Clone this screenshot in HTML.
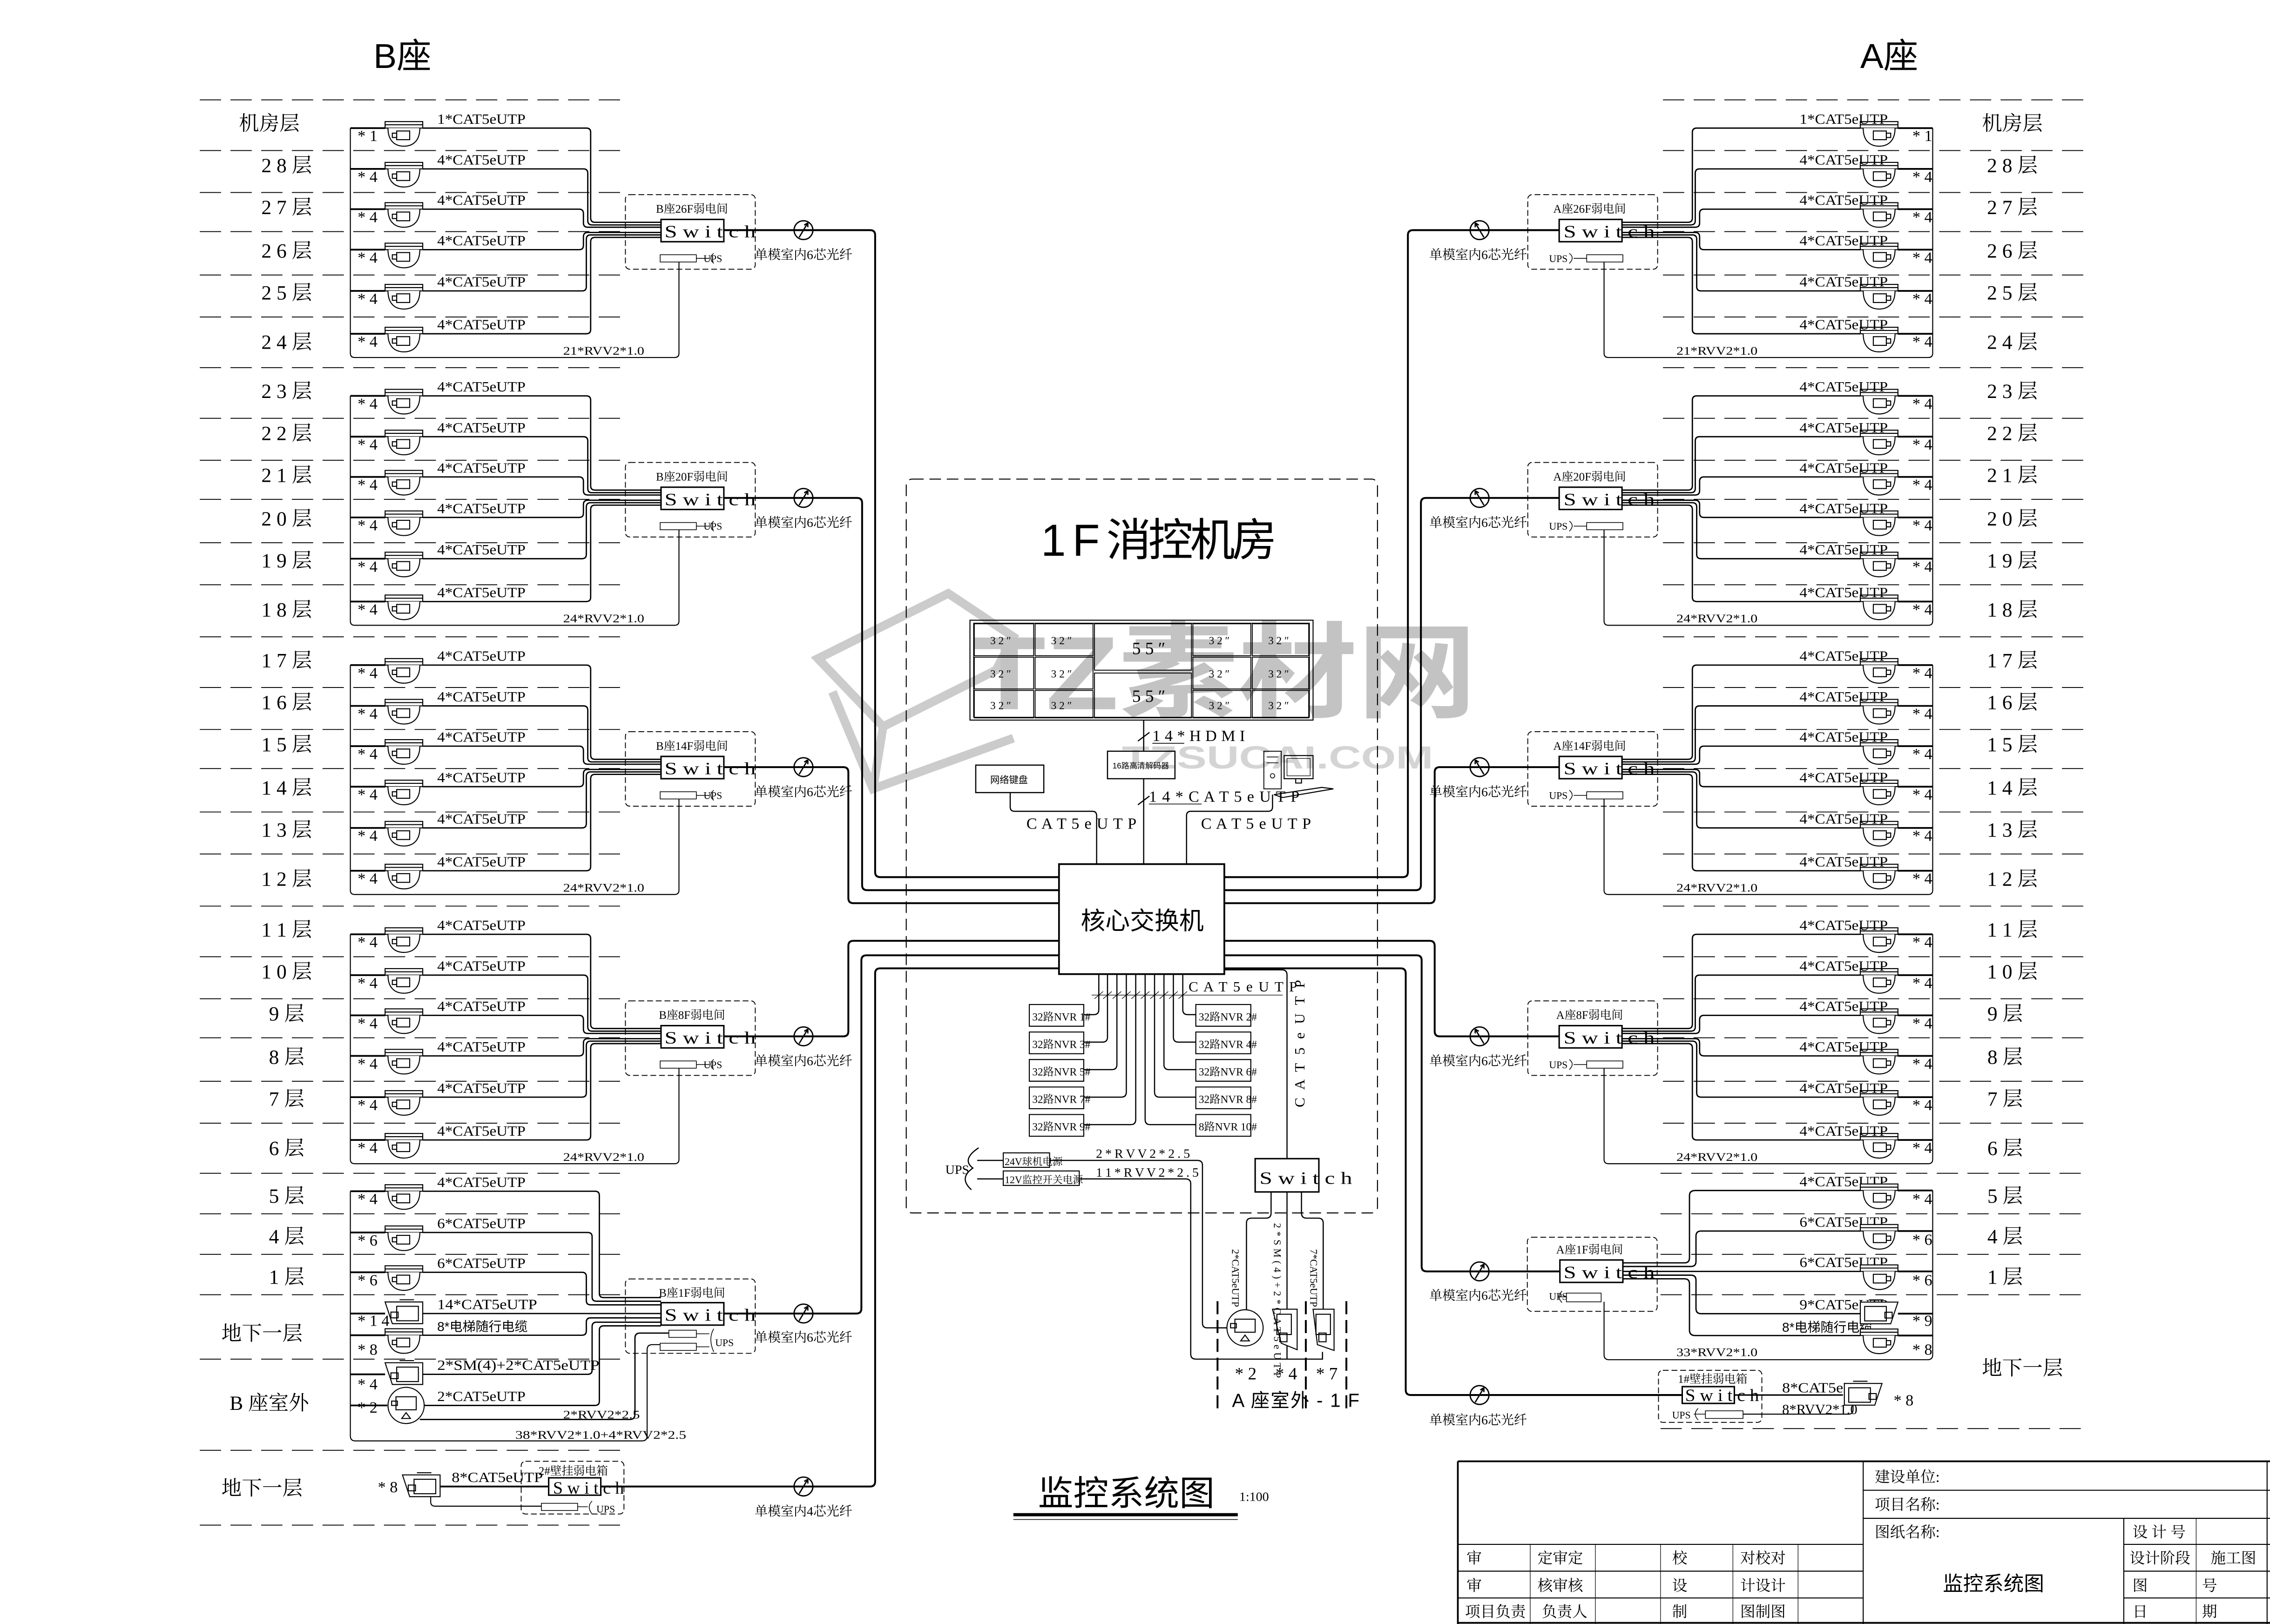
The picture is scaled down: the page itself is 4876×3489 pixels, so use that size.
<!DOCTYPE html>
<html><head><meta charset="utf-8">
<style>
html,body{margin:0;padding:0;background:#fff;}
svg{display:block;}
text{font-family:"Liberation Serif","Noto Serif CJK SC",serif;fill:#000;}
.cj{font-family:"Liberation Sans","Noto Sans CJK SC",sans-serif;}
</style></head>
<body>
<svg xmlns="http://www.w3.org/2000/svg" xmlns:xlink="http://www.w3.org/1999/xlink" width="4876" height="3489" viewBox="0 0 1568 1122" preserveAspectRatio="none">
<defs>
<g id="dome" fill="none" stroke="#000" stroke-width="0.7">
 <rect x="0" y="-4.5" width="26" height="4.5" fill="#fff"/>
 <path d="M0,-2.3H26"/>
 <path d="M2,0C2,9 7,12.5 13,12.5C19,12.5 24,9 24,0" fill="#fff"/>
 <rect x="8" y="2" width="9" height="6"/>
 <rect x="5" y="3.5" width="3" height="3"/>
</g>
<g id="sq" fill="none" stroke="#000" stroke-width="0.7">
 <path d="M0,-8H26V7H5Z" fill="#fff"/>
 <rect x="8" y="-5" width="15" height="10"/>
 <rect x="4" y="-1" width="5" height="4"/>
 <path d="M10,-9.5H20"/>
</g>
<g id="rd" fill="none" stroke="#000" stroke-width="0.7">
 <circle cx="13" cy="0" r="12.5" fill="#fff"/>
 <rect x="6" y="-6" width="14" height="9"/>
 <rect x="3" y="-3" width="4" height="3"/>
 <path d="M10,9H16L13,5Z"/>
</g>
<g id="fib" fill="none" stroke="#000">
 <circle cx="0" cy="0" r="6.5" stroke-width="0.9" fill="#fff"/>
 <path d="M-3,5L3,-5M3,-5L0.5,-3.5M3,-5L3,-2" stroke-width="0.9"/>
</g>
<g id="LB" fill="none" stroke="#000">
 <path stroke-dasharray="14.7 6.5" stroke-width="0.6" d="M138,69H430M138,104H430M138,133H430M138,160H430M138,190H430M138,219H430"/>
 <path stroke-width="0.7" d="M242,88.5V244Q242,247 245,247H466Q469,247 469,244V181"/>
 <path stroke-width="1.2" d="M242,88.5H266M242,116.7H266M242,144.5H266M242,172.5H266M242,201H266M242,230.6H266"/>
 <use xlink:href="#dome" x="266" y="88.5"/>
 <use xlink:href="#dome" x="266" y="116.7"/>
 <use xlink:href="#dome" x="266" y="144.5"/>
 <use xlink:href="#dome" x="266" y="172.5"/>
 <use xlink:href="#dome" x="266" y="201"/>
 <use xlink:href="#dome" x="266" y="230.6"/>
 <path stroke-width="0.9" d="M292,88.5H405Q408,88.5 408,91.5V150.6Q408,153.6 411,153.6H456.6
 M292,116.7H403Q406,116.7 406,119.7V152.4Q406,155.4 409,155.4H456.6
 M292,144.5H400Q403,144.5 403,147.5V154Q403,157 406,157H456.6
 M292,172.5H400Q403,172.5 403,169.5V163.6Q403,160.6 406,160.6H456.6
 M292,201H402Q405,201 405,198V165.3Q405,162.3 408,162.3H456.6
 M292,230.6H405Q408,230.6 408,227.6V167Q408,164 411,164H456.6"/>
 <rect x="456.6" y="151.6" width="43.4" height="15.4" stroke-width="1"/>
 <rect x="432" y="134.5" width="89.7" height="51.5" rx="3" stroke-dasharray="4 2" stroke-width="0.6"/>
 <rect x="456" y="176" width="25" height="5" stroke-width="0.5"/>
 <path stroke-width="0.5" d="M481,178.5H490M493,175Q489,178 493,182"/>
 <use xlink:href="#fib" x="555" y="159"/>
</g>
</defs>

<text x="278" y="47" font-size="24" text-anchor="middle" class="cj">B座</text>
<text x="1305" y="47" font-size="24" text-anchor="middle" class="cj">A座</text>

<g opacity="0.5">
 <path d="M565,455L655,410L700,440L688,463L610,502Z M575,478L603,545L700,510 M610,502L603,545" fill="none" stroke="#999" stroke-width="6"/>
 <text x="672" y="490" font-size="72" font-weight="bold" textLength="348" lengthAdjust="spacingAndGlyphs" class="cj" style="fill:#888">TZ素材网</text>
 <text x="775" y="531" font-size="22" font-weight="bold" textLength="215" lengthAdjust="spacingAndGlyphs" class="cj" style="fill:#aaa">TZSUCAI.COM</text>
</g>

<use xlink:href="#LB"/>
<use xlink:href="#LB" transform="translate(0,185)"/>
<use xlink:href="#LB" transform="translate(0,371)"/>
<use xlink:href="#LB" transform="translate(0,557)"/>
<use xlink:href="#LB" transform="matrix(-1 0 0 1 1577 0)"/>
<use xlink:href="#LB" transform="matrix(-1 0 0 1 1577 185)"/>
<use xlink:href="#LB" transform="matrix(-1 0 0 1 1577 371)"/>
<use xlink:href="#LB" transform="matrix(-1 0 0 1 1577 557)"/>

<g font-size="14" text-anchor="middle" class="cj">
<text x="186" y="90">机房层</text><text x="198" y="119">2 8 层</text><text x="198" y="148">2 7 层</text><text x="198" y="178">2 6 层</text><text x="198" y="207">2 5 层</text><text x="198" y="241">2 4 层</text>
<text x="198" y="275">2 3 层</text><text x="198" y="304">2 2 层</text><text x="198" y="333">2 1 层</text><text x="198" y="363">2 0 层</text><text x="198" y="392">1 9 层</text><text x="198" y="426">1 8 层</text>
<text x="198" y="461">1 7 层</text><text x="198" y="490">1 6 层</text><text x="198" y="519">1 5 层</text><text x="198" y="549">1 4 层</text><text x="198" y="578">1 3 层</text><text x="198" y="612">1 2 层</text>
<text x="198" y="647">1 1 层</text><text x="198" y="676">1 0 层</text><text x="198" y="705">9 层</text><text x="198" y="735">8 层</text><text x="198" y="764">7 层</text><text x="198" y="798">6 层</text>
<text x="198" y="831">5 层</text><text x="198" y="859">4 层</text><text x="198" y="887">1 层</text><text x="181" y="926">地下一层</text><text x="186" y="974">B 座室外</text><text x="181" y="1033">地下一层</text>
</g>
<g font-size="14" text-anchor="middle" class="cj">
<text x="1390" y="90">机房层</text><text x="1390" y="119">2 8 层</text><text x="1390" y="148">2 7 层</text><text x="1390" y="178">2 6 层</text><text x="1390" y="207">2 5 层</text><text x="1390" y="241">2 4 层</text>
<text x="1390" y="275">2 3 层</text><text x="1390" y="304">2 2 层</text><text x="1390" y="333">2 1 层</text><text x="1390" y="363">2 0 层</text><text x="1390" y="392">1 9 层</text><text x="1390" y="426">1 8 层</text>
<text x="1390" y="461">1 7 层</text><text x="1390" y="490">1 6 层</text><text x="1390" y="519">1 5 层</text><text x="1390" y="549">1 4 层</text><text x="1390" y="578">1 3 层</text><text x="1390" y="612">1 2 层</text>
<text x="1390" y="647">1 1 层</text><text x="1390" y="676">1 0 层</text><text x="1385" y="705">9 层</text><text x="1385" y="735">8 层</text><text x="1385" y="764">7 层</text><text x="1385" y="798">6 层</text>
<text x="1385" y="831">5 层</text><text x="1385" y="859">4 层</text><text x="1385" y="887">1 层</text><text x="1397" y="950">地下一层</text>
</g>

<g font-size="10">
<text x="302" y="85.5" textLength="61" lengthAdjust="spacingAndGlyphs">1*CAT5eUTP</text>
<text x="302" y="113.7" textLength="61" lengthAdjust="spacingAndGlyphs">4*CAT5eUTP</text>
<text x="302" y="141.5" textLength="61" lengthAdjust="spacingAndGlyphs">4*CAT5eUTP</text>
<text x="302" y="169.5" textLength="61" lengthAdjust="spacingAndGlyphs">4*CAT5eUTP</text>
<text x="302" y="198" textLength="61" lengthAdjust="spacingAndGlyphs">4*CAT5eUTP</text>
<text x="302" y="227.6" textLength="61" lengthAdjust="spacingAndGlyphs">4*CAT5eUTP</text>
<text x="302" y="270.5" textLength="61" lengthAdjust="spacingAndGlyphs">4*CAT5eUTP</text>
<text x="302" y="298.7" textLength="61" lengthAdjust="spacingAndGlyphs">4*CAT5eUTP</text>
<text x="302" y="326.5" textLength="61" lengthAdjust="spacingAndGlyphs">4*CAT5eUTP</text>
<text x="302" y="354.5" textLength="61" lengthAdjust="spacingAndGlyphs">4*CAT5eUTP</text>
<text x="302" y="383" textLength="61" lengthAdjust="spacingAndGlyphs">4*CAT5eUTP</text>
<text x="302" y="412.6" textLength="61" lengthAdjust="spacingAndGlyphs">4*CAT5eUTP</text>
<text x="302" y="456.5" textLength="61" lengthAdjust="spacingAndGlyphs">4*CAT5eUTP</text>
<text x="302" y="484.7" textLength="61" lengthAdjust="spacingAndGlyphs">4*CAT5eUTP</text>
<text x="302" y="512.5" textLength="61" lengthAdjust="spacingAndGlyphs">4*CAT5eUTP</text>
<text x="302" y="540.5" textLength="61" lengthAdjust="spacingAndGlyphs">4*CAT5eUTP</text>
<text x="302" y="569" textLength="61" lengthAdjust="spacingAndGlyphs">4*CAT5eUTP</text>
<text x="302" y="598.6" textLength="61" lengthAdjust="spacingAndGlyphs">4*CAT5eUTP</text>
<text x="302" y="642.5" textLength="61" lengthAdjust="spacingAndGlyphs">4*CAT5eUTP</text>
<text x="302" y="670.7" textLength="61" lengthAdjust="spacingAndGlyphs">4*CAT5eUTP</text>
<text x="302" y="698.5" textLength="61" lengthAdjust="spacingAndGlyphs">4*CAT5eUTP</text>
<text x="302" y="726.5" textLength="61" lengthAdjust="spacingAndGlyphs">4*CAT5eUTP</text>
<text x="302" y="755" textLength="61" lengthAdjust="spacingAndGlyphs">4*CAT5eUTP</text>
<text x="302" y="784.6" textLength="61" lengthAdjust="spacingAndGlyphs">4*CAT5eUTP</text>
<text x="302" y="820" textLength="61" lengthAdjust="spacingAndGlyphs">4*CAT5eUTP</text>
<text x="302" y="848.5" textLength="61" lengthAdjust="spacingAndGlyphs">6*CAT5eUTP</text>
<text x="302" y="876" textLength="61" lengthAdjust="spacingAndGlyphs">6*CAT5eUTP</text>
<text x="302" y="904.5" textLength="69" lengthAdjust="spacingAndGlyphs">14*CAT5eUTP</text>
<text x="302" y="919.5" font-size="9" class="cj">8*电梯随行电缆</text>
<text x="302" y="946.5" textLength="112" lengthAdjust="spacingAndGlyphs">2*SM(4)+2*CAT5eUTP</text>
<text x="302" y="968" textLength="61" lengthAdjust="spacingAndGlyphs">2*CAT5eUTP</text>
<text x="312" y="1024" textLength="63" lengthAdjust="spacingAndGlyphs">8*CAT5eUTP</text>
</g>
<g font-size="10">
<text x="1243" y="85.5" textLength="61" lengthAdjust="spacingAndGlyphs">1*CAT5eUTP</text>
<text x="1243" y="113.7" textLength="61" lengthAdjust="spacingAndGlyphs">4*CAT5eUTP</text>
<text x="1243" y="141.5" textLength="61" lengthAdjust="spacingAndGlyphs">4*CAT5eUTP</text>
<text x="1243" y="169.5" textLength="61" lengthAdjust="spacingAndGlyphs">4*CAT5eUTP</text>
<text x="1243" y="198" textLength="61" lengthAdjust="spacingAndGlyphs">4*CAT5eUTP</text>
<text x="1243" y="227.6" textLength="61" lengthAdjust="spacingAndGlyphs">4*CAT5eUTP</text>
<text x="1243" y="270.5" textLength="61" lengthAdjust="spacingAndGlyphs">4*CAT5eUTP</text>
<text x="1243" y="298.7" textLength="61" lengthAdjust="spacingAndGlyphs">4*CAT5eUTP</text>
<text x="1243" y="326.5" textLength="61" lengthAdjust="spacingAndGlyphs">4*CAT5eUTP</text>
<text x="1243" y="354.5" textLength="61" lengthAdjust="spacingAndGlyphs">4*CAT5eUTP</text>
<text x="1243" y="383" textLength="61" lengthAdjust="spacingAndGlyphs">4*CAT5eUTP</text>
<text x="1243" y="412.6" textLength="61" lengthAdjust="spacingAndGlyphs">4*CAT5eUTP</text>
<text x="1243" y="456.5" textLength="61" lengthAdjust="spacingAndGlyphs">4*CAT5eUTP</text>
<text x="1243" y="484.7" textLength="61" lengthAdjust="spacingAndGlyphs">4*CAT5eUTP</text>
<text x="1243" y="512.5" textLength="61" lengthAdjust="spacingAndGlyphs">4*CAT5eUTP</text>
<text x="1243" y="540.5" textLength="61" lengthAdjust="spacingAndGlyphs">4*CAT5eUTP</text>
<text x="1243" y="569" textLength="61" lengthAdjust="spacingAndGlyphs">4*CAT5eUTP</text>
<text x="1243" y="598.6" textLength="61" lengthAdjust="spacingAndGlyphs">4*CAT5eUTP</text>
<text x="1243" y="642.5" textLength="61" lengthAdjust="spacingAndGlyphs">4*CAT5eUTP</text>
<text x="1243" y="670.7" textLength="61" lengthAdjust="spacingAndGlyphs">4*CAT5eUTP</text>
<text x="1243" y="698.5" textLength="61" lengthAdjust="spacingAndGlyphs">4*CAT5eUTP</text>
<text x="1243" y="726.5" textLength="61" lengthAdjust="spacingAndGlyphs">4*CAT5eUTP</text>
<text x="1243" y="755" textLength="61" lengthAdjust="spacingAndGlyphs">4*CAT5eUTP</text>
<text x="1243" y="784.6" textLength="61" lengthAdjust="spacingAndGlyphs">4*CAT5eUTP</text>
<text x="1243" y="819.5" textLength="61" lengthAdjust="spacingAndGlyphs">4*CAT5eUTP</text>
<text x="1243" y="847.5" textLength="61" lengthAdjust="spacingAndGlyphs">6*CAT5eUTP</text>
<text x="1243" y="875.4" textLength="61" lengthAdjust="spacingAndGlyphs">6*CAT5eUTP</text>
<text x="1243" y="904.6" textLength="61" lengthAdjust="spacingAndGlyphs">9*CAT5eUTP</text>
<text x="1231" y="920" font-size="9" class="cj">8*电梯随行电缆</text>
<text x="1231" y="962" textLength="63" lengthAdjust="spacingAndGlyphs">8*CAT5eUTP</text>
<text x="1231" y="977" textLength="52" lengthAdjust="spacingAndGlyphs">8*RVV2*1.0</text>
</g>

<g font-size="11">
<text x="247" y="97.5">* 1</text><text x="247" y="125.7">* 4</text><text x="247" y="153.5">* 4</text><text x="247" y="181.5">* 4</text><text x="247" y="210">* 4</text><text x="247" y="239.6">* 4</text>
<text x="247" y="282.5">* 4</text><text x="247" y="310.7">* 4</text><text x="247" y="338.5">* 4</text><text x="247" y="366.5">* 4</text><text x="247" y="395">* 4</text><text x="247" y="424.6">* 4</text>
<text x="247" y="468.5">* 4</text><text x="247" y="496.7">* 4</text><text x="247" y="524.5">* 4</text><text x="247" y="552.5">* 4</text><text x="247" y="581">* 4</text><text x="247" y="610.6">* 4</text>
<text x="247" y="654.5">* 4</text><text x="247" y="682.7">* 4</text><text x="247" y="710.5">* 4</text><text x="247" y="738.5">* 4</text><text x="247" y="767">* 4</text><text x="247" y="796.6">* 4</text>
<text x="247" y="832">* 4</text><text x="247" y="860.5">* 6</text><text x="247" y="888">* 6</text><text x="247" y="916">* 1 4</text><text x="247" y="936">* 8</text><text x="247" y="960">* 4</text><text x="247" y="976">* 2</text>
<text x="261" y="1031">* 8</text>
<text x="1321" y="97.5">* 1</text><text x="1321" y="125.7">* 4</text><text x="1321" y="153.5">* 4</text><text x="1321" y="181.5">* 4</text><text x="1321" y="210">* 4</text><text x="1321" y="239.6">* 4</text>
<text x="1321" y="282.5">* 4</text><text x="1321" y="310.7">* 4</text><text x="1321" y="338.5">* 4</text><text x="1321" y="366.5">* 4</text><text x="1321" y="395">* 4</text><text x="1321" y="424.6">* 4</text>
<text x="1321" y="468.5">* 4</text><text x="1321" y="496.7">* 4</text><text x="1321" y="524.5">* 4</text><text x="1321" y="552.5">* 4</text><text x="1321" y="581">* 4</text><text x="1321" y="610.6">* 4</text>
<text x="1321" y="654.5">* 4</text><text x="1321" y="682.7">* 4</text><text x="1321" y="710.5">* 4</text><text x="1321" y="738.5">* 4</text><text x="1321" y="767">* 4</text><text x="1321" y="796.6">* 4</text>
<text x="1321" y="832">* 4</text><text x="1321" y="860">* 6</text><text x="1321" y="888">* 6</text><text x="1321" y="916">* 9</text><text x="1321" y="936">* 8</text>
<text x="1308" y="971">* 8</text>
</g>

<g font-size="12">
<text x="459" y="164" textLength="63" lengthAdjust="spacingAndGlyphs">S w i t c h</text>
<text x="459" y="349" textLength="63" lengthAdjust="spacingAndGlyphs">S w i t c h</text>
<text x="459" y="535" textLength="63" lengthAdjust="spacingAndGlyphs">S w i t c h</text>
<text x="459" y="721" textLength="63" lengthAdjust="spacingAndGlyphs">S w i t c h</text>
<text x="459" y="912.5" textLength="63" lengthAdjust="spacingAndGlyphs">S w i t c h</text>
<text x="382" y="1032" textLength="49" lengthAdjust="spacingAndGlyphs">S w i t c h</text>
<text x="1080" y="164" textLength="63" lengthAdjust="spacingAndGlyphs">S w i t c h</text>
<text x="1080" y="349" textLength="63" lengthAdjust="spacingAndGlyphs">S w i t c h</text>
<text x="1080" y="535" textLength="63" lengthAdjust="spacingAndGlyphs">S w i t c h</text>
<text x="1080" y="721" textLength="63" lengthAdjust="spacingAndGlyphs">S w i t c h</text>
<text x="1080" y="883" textLength="63" lengthAdjust="spacingAndGlyphs">S w i t c h</text>
<text x="1164" y="968" textLength="51" lengthAdjust="spacingAndGlyphs">S w i t c h</text>
</g>
<g font-size="8" text-anchor="middle" class="cj">
<text x="478" y="147">B座26F弱电间</text><text x="478" y="332">B座20F弱电间</text><text x="478" y="518">B座14F弱电间</text><text x="478" y="704">B座8F弱电间</text><text x="478" y="896">B座1F弱电间</text><text x="396" y="1019">2#壁挂弱电箱</text>
<text x="1098" y="147">A座26F弱电间</text><text x="1098" y="332">A座20F弱电间</text><text x="1098" y="518">A座14F弱电间</text><text x="1098" y="704">A座8F弱电间</text><text x="1098" y="866">A座1F弱电间</text><text x="1183" y="955.5">1#壁挂弱电箱</text>
</g>
<g font-size="9" text-anchor="middle" class="cj">
<text x="555" y="179">单模室内6芯光纤</text><text x="555" y="364">单模室内6芯光纤</text><text x="555" y="550">单模室内6芯光纤</text><text x="555" y="736">单模室内6芯光纤</text><text x="555" y="927">单模室内6芯光纤</text><text x="555" y="1047">单模室内4芯光纤</text>
<text x="1021" y="179">单模室内6芯光纤</text><text x="1021" y="364">单模室内6芯光纤</text><text x="1021" y="550">单模室内6芯光纤</text><text x="1021" y="736">单模室内6芯光纤</text><text x="1021" y="898">单模室内6芯光纤</text><text x="1021" y="984">单模室内6芯光纤</text>
</g>
<g font-size="7" class="cj">
<text x="486" y="181">UPS</text><text x="486" y="366">UPS</text><text x="486" y="552">UPS</text><text x="486" y="738">UPS</text><text x="494" y="930">UPS</text><text x="412" y="1045">UPS</text>
<text x="1070" y="181">UPS</text><text x="1070" y="366">UPS</text><text x="1070" y="552">UPS</text><text x="1070" y="738">UPS</text><text x="1070" y="898">UPS</text><text x="1155" y="980">UPS</text>
</g>
<g font-size="8">
<text x="389" y="245" textLength="56" lengthAdjust="spacingAndGlyphs">21*RVV2*1.0</text>
<text x="389" y="430" textLength="56" lengthAdjust="spacingAndGlyphs">24*RVV2*1.0</text>
<text x="389" y="616" textLength="56" lengthAdjust="spacingAndGlyphs">24*RVV2*1.0</text>
<text x="389" y="802" textLength="56" lengthAdjust="spacingAndGlyphs">24*RVV2*1.0</text>
<text x="389" y="980" textLength="53" lengthAdjust="spacingAndGlyphs">2*RVV2*2.5</text>
<text x="356" y="994" textLength="118" lengthAdjust="spacingAndGlyphs">38*RVV2*1.0+4*RVV2*2.5</text>
<text x="1158" y="245" textLength="56" lengthAdjust="spacingAndGlyphs">21*RVV2*1.0</text>
<text x="1158" y="430" textLength="56" lengthAdjust="spacingAndGlyphs">24*RVV2*1.0</text>
<text x="1158" y="616" textLength="56" lengthAdjust="spacingAndGlyphs">24*RVV2*1.0</text>
<text x="1158" y="802" textLength="56" lengthAdjust="spacingAndGlyphs">24*RVV2*1.0</text>
<text x="1158" y="937" textLength="56" lengthAdjust="spacingAndGlyphs">33*RVV2*1.0</text>
</g>

<g fill="none" stroke="#000">
 <path stroke-dasharray="14.7 6.5" stroke-width="0.6" d="M138,810.6H430M138,838.6H430M138,866.6H430M138,894.5H430M138,939H430M138,1002H430M138,1053.7H430"/>
 <path stroke-width="0.7" d="M242,823V992Q242,995.5 245.5,995.5H443.5Q447,995.5 447,992V932.5Q447,929 450.5,929H456"/>
 <path stroke-width="1.2" d="M242,823H266M242,851.5H266M242,879H266M242,907.5H266M242,922.5H266M242,949.5H266M242,971H267.5"/>
 <path stroke-width="0.9" d="M292,823H411Q414,823 414,826V893.5Q414,896.5 417,896.5H456.6
 M292,851.5H406Q409,851.5 409,854.5V896Q409,899 412,899H456.6
 M292,879H402Q405,879 405,882V898.5Q405,901.5 408,901.5H456.6
 M292,907.5H456.6
 M292,922.5H402Q405,922.5 405,919.5V913.5Q405,910.5 408,910.5H456.6
 M292,949.5H406Q409,949.5 409,946.5V916.5Q409,913.5 412,913.5H456.6
 M292.5,971H411Q414,971 414,968V919Q414,916 417,916H456.6
 M290,980.7H435Q438.6,980.7 438.6,977V924.5Q438.6,921 442,921H462"/>
 <rect x="456.6" y="900" width="43.4" height="15.5" stroke-width="1"/>
 <rect x="432" y="883.6" width="89.7" height="51.4" rx="3" stroke-dasharray="4 2" stroke-width="0.6"/>
 <rect x="462" y="919" width="19" height="5" stroke-width="0.5"/>
 <rect x="456" y="928" width="25" height="5" stroke-width="0.5"/>
 <path stroke-width="0.5" d="M481,921.5H490M481,930.5H490M493,918Q489,925 493,934"/>
 <path stroke-width="1.2" d="M304,1027H379"/>
 <path stroke-width="0.7" d="M297.5,1034V1037.6Q297.5,1040.6 300.5,1040.6H374"/>
 <rect x="379" y="1021" width="36" height="12" stroke-width="1"/>
 <rect x="360" y="1009.6" width="71" height="36.4" rx="3" stroke-dasharray="4 2" stroke-width="0.6"/>
 <rect x="374" y="1038.6" width="25" height="5" stroke-width="0.5"/>
 <path stroke-width="0.5" d="M399,1041H406M409,1037Q405,1041 409,1046"/>
</g>
<use xlink:href="#dome" x="266" y="823"/>
<use xlink:href="#dome" x="266" y="851.5"/>
<use xlink:href="#dome" x="266" y="879"/>
<use xlink:href="#sq" x="266" y="907.5"/>
<use xlink:href="#dome" x="266" y="922.5"/>
<use xlink:href="#sq" x="266" y="949.5"/>
<use xlink:href="#rd" x="267.5" y="971"/>
<use xlink:href="#sq" x="278" y="1027"/>
<use xlink:href="#fib" x="555" y="907.5"/>
<use xlink:href="#fib" x="555" y="1027"/>

<g fill="none" stroke="#000">
 <path stroke-dasharray="14.7 6.5" stroke-width="0.6" d="M1147,810.6H1439M1147,838.6H1439M1147,866.6H1439M1147,894.5H1439M1147,987H1439"/>
 <path stroke-width="0.7" d="M1335,822.5V936Q1335,939.4 1331.5,939.4H1111.5Q1108,939.4 1108,936V899.4"/>
 <path stroke-width="1.2" d="M1335,822.5H1311M1335,850.5H1311M1335,878.4H1311M1335,907.6H1311M1335,922.7H1311"/>
 <path stroke-width="0.9" d="M1285,822.5H1171Q1167,822.5 1167,826V869Q1167,872.5 1163.5,872.5H1121
 M1285,850.5H1175Q1171.5,850.5 1171.5,854V871.5Q1171.5,875 1168,875H1121
 M1285,878.4H1121
 M1285,907.6H1175Q1171.5,907.6 1171.5,904V884.5Q1171.5,881 1168,881H1121
 M1285,922.7H1171Q1167,922.7 1167,919V887Q1167,883.5 1163.5,883.5H1121"/>
 <rect x="1077.5" y="870.5" width="43.5" height="15.5" stroke-width="1"/>
 <rect x="1055" y="854.8" width="89.7" height="51.2" rx="3" stroke-dasharray="4 2" stroke-width="0.6"/>
 <rect x="1082" y="893.4" width="24" height="6" stroke-width="0.5"/>
 <path stroke-width="0.5" d="M1082,896H1076M1079,892Q1075,896 1079,900"/>
 <path stroke-width="1" d="M1198,963.8H1273"/>
 <path stroke-width="0.7" d="M1204,977H1277Q1280,977 1280,974V971"/>
 <rect x="1162" y="958" width="36" height="11.6" stroke-width="1"/>
 <rect x="1145.6" y="946.7" width="71.4" height="36" rx="3" stroke-dasharray="4 2" stroke-width="0.6"/>
 <rect x="1178" y="974.7" width="26" height="5.3" stroke-width="0.5"/>
 <path stroke-width="0.5" d="M1178,977H1170M1173,973Q1169,977 1173,981"/>
</g>
<use xlink:href="#dome" transform="matrix(-1 0 0 1 1311 822.5)"/>
<use xlink:href="#dome" transform="matrix(-1 0 0 1 1311 850.5)"/>
<use xlink:href="#dome" transform="matrix(-1 0 0 1 1311 878.4)"/>
<use xlink:href="#sq" transform="matrix(-1 0 0 1 1311 907.6)"/>
<use xlink:href="#dome" transform="matrix(-1 0 0 1 1311 922.7)"/>
<use xlink:href="#sq" transform="matrix(-1 0 0 1 1300 963.8)"/>
<use xlink:href="#fib" x="1022" y="878.4"/>
<use xlink:href="#fib" x="1022" y="963.8"/>

<g fill="none" stroke="#000" stroke-width="1.3">
 <path d="M500,159H601Q604.5,159 604.5,162.5V602.5Q604.5,606 608,606H732"/>
 <path d="M500,344H592Q595.5,344 595.5,347.5V611.5Q595.5,615 599,615H732"/>
 <path d="M500,530H582.5Q586,530 586,533.5V620.5Q586,624 589.5,624H732"/>
 <path d="M500,716H582.5Q586,716 586,712.5V653.5Q586,650 589.5,650H732"/>
 <path d="M500,907.5H591.5Q595,907.5 595,904V663.5Q595,660 598.5,660H732"/>
 <path d="M415,1027H601Q604.5,1027 604.5,1023.5V672.5Q604.5,669 608,669H732"/>
 <path d="M1077,159H976Q972.5,159 972.5,162.5V602.5Q972.5,606 969,606H845"/>
 <path d="M1077,344H985Q981.5,344 981.5,347.5V611.5Q981.5,615 978,615H845"/>
 <path d="M1077,530H994.5Q991,530 991,533.5V620.5Q991,624 987.5,624H845"/>
 <path d="M1077,716H994.5Q991,716 991,712.5V653.5Q991,650 987.5,650H845"/>
 <path d="M1077.5,878.4H985.5Q982,878.4 982,875V663.5Q982,660 978.5,660H845"/>
 <path d="M1162,963.8H974.5Q971,963.8 971,960.3V672.5Q971,669 967.5,669H845"/>
</g>

<g fill="none" stroke="#000">
 <rect x="626" y="331" width="325.5" height="507" rx="4" stroke-dasharray="8 4" stroke-width="0.7"/>
 <rect x="670" y="428.5" width="237" height="69" stroke-width="0.7"/>
 <rect x="672.5" y="430.5" width="232" height="65" stroke-width="0.5"/>
 <path stroke-width="0.6" d="M673,431H714V453H673ZM673,454H714V476H673ZM673,477H714V496H673Z
 M715,431H755V453H715ZM715,454H755V476H715ZM715,477H755V496H715Z
 M756,431H823V463H756ZM756,465H823V496H756Z
 M824,431H864V453H824ZM824,454H864V476H824ZM824,477H864V496H824Z
 M865,431H904V453H865ZM865,454H904V476H865ZM865,477H904V496H865Z"/>
 <rect x="765" y="519" width="46.6" height="19" stroke-width="0.8"/>
 <rect x="674" y="528.6" width="47" height="19" stroke-width="0.8"/>
 <path stroke-width="0.8" d="M790,497.5V519M790,538V597M697.8,547.6V557.5Q697.8,560.5 700.8,560.5H754.5Q757.5,560.5 757.5,563.5V597M879,549V557.5Q879,560.5 876,560.5H822.6Q819.6,560.5 819.6,563.5V597M786,512L794,506M786,556L794,550"/>
 <path stroke-width="0.5" d="M796,513.5H818M793.6,555.5H830"/>
 <rect x="731.5" y="597" width="114.2" height="76" stroke-width="1.2" fill="#fff"/>
 <rect x="873" y="519" width="12" height="26" stroke-width="0.6"/>
 <path stroke-width="0.5" d="M875,523H883M875,527H883"/>
 <circle cx="879" cy="536" r="1.5" stroke-width="0.5"/>
 <rect x="887" y="522" width="20" height="16" stroke-width="0.7"/>
 <rect x="889" y="524" width="16" height="12" stroke-width="0.4"/>
 <path stroke-width="0.7" d="M895,538V541H899V538M880,549L913,544L921,545L886,551Z"/>
 <path stroke-width="0.8" d="M759,673V697.5Q759,701 755.5,701H748.6
 M765,673V716.5Q765,720 761.5,720H748.6
 M771.5,673V735.5Q771.5,739 768,739H748.6
 M778,673V754.5Q778,758 774.5,758H748.6
 M784.5,673V773.5Q784.5,777 781,777H748.6
 M817,673V697.5Q817,701 820.5,701H826
 M810.5,673V716.5Q810.5,720 814,720H826
 M804,673V735.5Q804,739 807.5,739H826
 M797.5,673V754.5Q797.5,758 801,758H826
 M791,673V773.5Q791,777 794.5,777H826"/>
 <path stroke-width="0.4" d="M756,690L762,685M762,690L768,685M768.5,690L774.5,685M775,690L781,685M781.5,690L787.5,685M788,690L794,685M794.5,690L800.5,685M801,690L807,685M807.5,690L813.5,685M814,690L820,685M821,687.5H886M754,687.5H821"/>
 <path stroke-width="0.7" d="M711,694H748.6V709H711ZM711,713H748.6V728H711ZM711,732H748.6V747H711ZM711,751H748.6V766H711ZM711,770H748.6V785H711Z
 M826,694H864V709H826ZM826,713H864V728H826ZM826,732H864V747H826ZM826,751H864V766H826ZM826,770H864V785H826Z"/>
 <path stroke-width="0.8" d="M845.7,670H885.5Q889,670 889,673.5V800.5"/>
 <rect x="867" y="800.5" width="44" height="23" stroke-width="1"/>
 <rect x="693" y="796.5" width="32" height="10" stroke-width="0.7"/>
 <rect x="693" y="809" width="52.5" height="10" stroke-width="0.7"/>
 <path stroke-width="0.8" d="M675,801.7H693M675,814.5H693M676,793Q664,801 672,807Q662,814 671,822"/>
 <path stroke-width="0.8" d="M725,801.7H827Q830.6,801.7 830.6,805V914Q830.6,917.4 834,917.4H847.7"/>
 <path stroke-width="0.8" d="M745.5,814.5H819Q822.5,814.5 822.5,818V935.5Q822.5,939 826,939H913.5V934"/>
 <path stroke-width="0.8" d="M878,823.5V838Q878,841.6 874.5,841.6H864.5Q861,841.6 861,845V905M889,823.5V939M899,823.5V838Q899,841.6 902.5,841.6H910.5Q914,841.6 914,845V905"/>
 <path stroke-width="1.3" stroke-dasharray="9 4" d="M841,899V975M902,899V975M930,899V975"/>
</g>
<use xlink:href="#rd" x="847" y="917.4"/>
<g fill="none" stroke="#000" stroke-width="0.7">
 <path d="M879,904.5H896V932.5L885,928Z" fill="#fff"/><rect x="882" y="908" width="10" height="14"/><rect x="884" y="921" width="5" height="6"/>
 <path d="M907,904.5H921.5V933L910,929Z" fill="#fff"/><rect x="909" y="908" width="10" height="14"/><rect x="911" y="921" width="5" height="6"/>
</g>
<text x="870" y="818" font-size="12" textLength="64" lengthAdjust="spacingAndGlyphs">S w i t c h</text>

<text x="719" y="384" font-size="31" class="cj" textLength="163" lengthAdjust="spacing">1 F 消控机房</text>
<g font-size="7.5">
<text x="684" y="445">3 2 ″</text><text x="726" y="445">3 2 ″</text><text x="835" y="445">3 2 ″</text><text x="876" y="445">3 2 ″</text>
<text x="684" y="468">3 2 ″</text><text x="726" y="468">3 2 ″</text><text x="835" y="468">3 2 ″</text><text x="876" y="468">3 2 ″</text>
<text x="684" y="490">3 2 ″</text><text x="726" y="490">3 2 ″</text><text x="835" y="490">3 2 ″</text><text x="876" y="490">3 2 ″</text>
</g>
<text x="782" y="452" font-size="12">5 5 ″</text>
<text x="782" y="485" font-size="12">5 5 ″</text>
<text x="796" y="512" font-size="11" textLength="64" lengthAdjust="spacing">1 4 * H D M I</text>
<text x="788" y="531" font-size="5.5" text-anchor="middle" class="cj">16路高清解码器</text>
<text x="697" y="541" font-size="6.5" text-anchor="middle" class="cj">网络键盘</text>
<text x="793.6" y="554" font-size="11" textLength="104" lengthAdjust="spacing">1 4 * C A T 5 e U T P</text>
<text x="709" y="572.6" font-size="11" textLength="76" lengthAdjust="spacing">C A T 5 e U T P</text>
<text x="829.6" y="572.6" font-size="11" textLength="76" lengthAdjust="spacing">C A T 5 e U T P</text>
<text x="789" y="642" font-size="17" text-anchor="middle" class="cj">核心交换机</text>
<g font-size="7.5" class="cj">
<text x="713" y="705">32路NVR 1#</text><text x="713" y="724">32路NVR 3#</text><text x="713" y="743">32路NVR 5#</text><text x="713" y="762">32路NVR 7#</text><text x="713" y="781">32路NVR 9#</text>
<text x="828" y="705">32路NVR 2#</text><text x="828" y="724">32路NVR 4#</text><text x="828" y="743">32路NVR 6#</text><text x="828" y="762">32路NVR 8#</text><text x="828" y="781">8路NVR 10#</text>
<text x="694" y="805" font-size="7">24V球机电源</text><text x="694" y="817.5" font-size="7">12V监控开关电源</text>
<text x="653" y="811" font-size="9">UPS</text>
</g>
<text x="821" y="685" font-size="10" textLength="75" lengthAdjust="spacing">C A T 5 e U T P</text>
<text transform="translate(901,765) rotate(-90)" font-size="10" textLength="88" lengthAdjust="spacing">C A T 5 e U T P</text>
<text x="757" y="800" font-size="9" textLength="65" lengthAdjust="spacing">2 * R V V 2 * 2 . 5</text>
<text x="757" y="813" font-size="9" textLength="71" lengthAdjust="spacing">1 1 * R V V 2 * 2 . 5</text>
<text transform="translate(851,863) rotate(90)" font-size="7" textLength="40" lengthAdjust="spacing">2*CAT5eUTP</text>
<text transform="translate(880,845) rotate(90)" font-size="7" textLength="107" lengthAdjust="spacing">2*SM(4)+2*CAT5eUTP</text>
<text transform="translate(905,863) rotate(90)" font-size="7" textLength="40" lengthAdjust="spacing">7*CAT5eUTP</text>
<g font-size="12">
<text x="853" y="953">* 2</text><text x="881" y="953">* 4</text><text x="909" y="953">* 7</text>
</g>
<text x="851" y="972" font-size="13" class="cj" textLength="88" lengthAdjust="spacing">A 座室外 - 1 F</text>

<text x="717" y="1040" font-size="24" class="cj" textLength="122" lengthAdjust="spacingAndGlyphs">监控系统图</text>
<text x="856" y="1037" font-size="9">1:100</text>
<path d="M700,1046.5H855" stroke="#000" stroke-width="2.2"/>
<path d="M700,1049.8H855" stroke="#000" stroke-width="0.5"/>

<g fill="none" stroke="#000">
 <path stroke-width="1.2" d="M1007,1009.6H1568M1007,1009.6V1122M1007,1121.2H1568"/>
 <path stroke-width="0.7" d="M1287,1009.6V1122M1287,1029.6H1568M1287,1049H1568M1007,1067H1287M1467,1067H1568M1007,1085.5H1287M1467,1085.5H1568M1007,1104H1287M1467,1104H1568M1467,1049V1122M1566,1009.6V1122"/>
 <path stroke-width="0.4" d="M1057,1067V1122M1102,1067V1122M1147,1067V1122M1197,1067V1122M1242,1067V1122M1517,1049V1122"/>
</g>
<g font-size="10.5" class="cj">
<text x="1295" y="1024">建设单位:</text>
<text x="1295" y="1043">项目名称:</text>
<text x="1295" y="1062">图纸名称:</text>
<text x="1473" y="1062">设 计 号</text>
<text x="1471" y="1080">设计阶段</text><text x="1527" y="1080">施工图</text>
<text x="1473" y="1099">图</text><text x="1521" y="1099">号</text>
<text x="1473" y="1117">日</text><text x="1521" y="1117">期</text>
<text x="1013" y="1080">审</text><text x="1062" y="1080">定审定</text><text x="1155" y="1080">校</text><text x="1202" y="1080">对校对</text>
<text x="1013" y="1099">审</text><text x="1062" y="1099">核审核</text><text x="1155" y="1099">设</text><text x="1202" y="1099">计设计</text>
<text x="1012" y="1117">项目负责</text><text x="1065" y="1117">负责人</text><text x="1155" y="1117">制</text><text x="1202" y="1117">图制图</text>
</g>
<text x="1377" y="1099" font-size="14" text-anchor="middle" class="cj">监控系统图</text>
</svg>
</body></html>
